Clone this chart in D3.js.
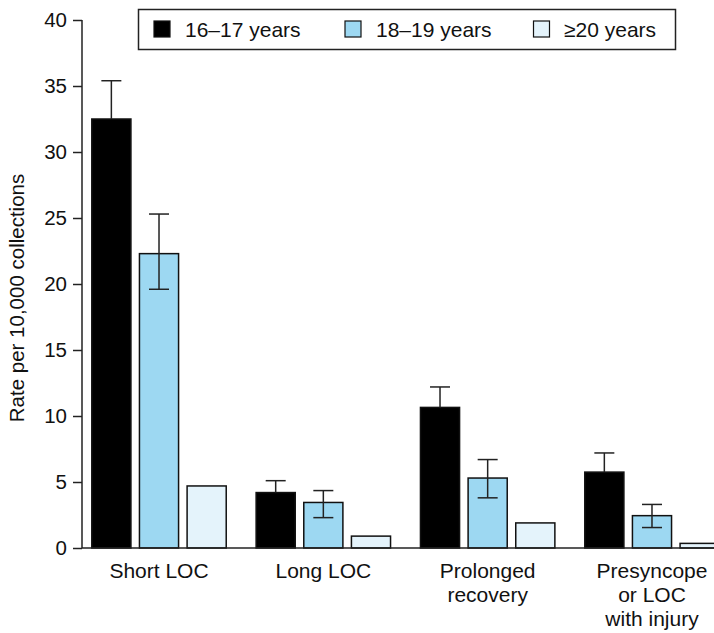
<!DOCTYPE html>
<html><head><meta charset="utf-8">
<script src="https://cdn.jsdelivr.net/npm/d3@7"></script>
<style>body{margin:0;background:#fff;} svg{display:block;font-family:"Liberation Sans",Arial,sans-serif;}</style>
</head><body>
<svg id="chart" width="714" height="633"></svg>
<script>
const categories = ["Short LOC", "Long LOC", "Prolonged recovery", "Presyncope or LOC with injury"];
const categoryLines = [["Short LOC"], ["Long LOC"], ["Prolonged", "recovery"], ["Presyncope", "or LOC", "with injury"]];
const series = ["16–17 years", "18–19 years", "≥20 years"];
const seriesColors = ["#000000", "#9dd8f2", "#e4f3fb"];
const values16 = [32.5, 4.2, 10.65, 5.75];
const values18 = [22.3, 3.45, 5.3, 2.45];
const values20 = [4.7, 0.9, 1.9, 0.35];
const upper16 = [35.4, 5.1, 12.2, 7.2];
const lower16 = [29.6, 3.3, 9.1, 4.3];
const upper18 = [25.3, 4.35, 6.7, 3.3];
const lower18 = [19.6, 2.3, 3.8, 1.55];
const yTicks = [0, 5, 10, 15, 20, 25, 30, 35, 40];

const svg = d3.select("#chart");
const y = d3.scaleLinear().domain([0, 40]).range([548, 20]);
const x0 = d3.scaleBand().domain(categories).range([91.8, 719.2]).paddingInner(0.182).paddingOuter(0);
const x1 = d3.scaleBand().domain(series).range([0, x0.bandwidth()]).paddingInner(0.179).paddingOuter(0);

const valuesBySeries = [values16, values18, values20];
const bars = [];
categories.forEach((c, i) => {
  series.forEach((s, j) => {
    bars.push({c, s, j, v: valuesBySeries[j][i]});
  });
});

// bars
svg.append("g").selectAll("rect").data(bars).join("rect")
  .attr("x", d => x0(d.c) + x1(d.s))
  .attr("y", d => y(d.v))
  .attr("width", x1.bandwidth())
  .attr("height", d => y(0) - y(d.v))
  .attr("fill", d => seriesColors[d.j])
  .attr("stroke", "#111")
  .attr("stroke-width", 1.5);

// error bars
const errs = [];
categories.forEach((c, i) => {
  errs.push({c, s: series[0], lo: lower16[i], hi: upper16[i], top: values16[i], black: true});
  errs.push({c, s: series[1], lo: lower18[i], hi: upper18[i], top: values18[i], black: false});
});
const eg = svg.append("g").attr("stroke", "#222").attr("stroke-width", 1.5);
errs.forEach(e => {
  const cx = x0(e.c) + x1(e.s) + x1.bandwidth() / 2;
  const lo = e.black ? e.top : e.lo;
  eg.append("line").attr("x1", cx).attr("x2", cx).attr("y1", y(e.hi)).attr("y2", y(lo));
  eg.append("line").attr("x1", cx - 10).attr("x2", cx + 10).attr("y1", y(e.hi)).attr("y2", y(e.hi));
  if (!e.black) eg.append("line").attr("x1", cx - 10).attr("x2", cx + 10).attr("y1", y(e.lo)).attr("y2", y(e.lo));
});

// y axis
const yAxis = d3.axisLeft(y).tickValues(yTicks).tickSize(9).tickPadding(6).tickFormat(d3.format("d"));
const ya = svg.append("g").attr("transform", "translate(82,0)").call(yAxis);
ya.select(".domain").attr("stroke", "#222").attr("stroke-width", 1.5).attr("d", "M0,20V548");
ya.selectAll(".tick line").attr("stroke", "#222").attr("stroke-width", 1.5);
ya.selectAll(".tick text").attr("font-size", 20.5).attr("fill", "#111").attr("font-family", "Liberation Sans, Arial, sans-serif");

// baseline
svg.append("line").attr("x1", 82).attr("x2", 714).attr("y1", y(0)).attr("y2", y(0))
  .attr("stroke", "#222").attr("stroke-width", 1.5);

// category labels
categories.forEach((c, i) => {
  const cx = x0(c) + x0.bandwidth() / 2;
  const t = svg.append("text").attr("text-anchor", "middle").attr("font-size", 21).attr("fill", "#111");
  categoryLines[i].forEach((ln, k) => {
    t.append("tspan").attr("x", cx).attr("y", 578 + k * 24).text(ln);
  });
});

// y title
svg.append("text").attr("transform", "translate(24,298) rotate(-90)").attr("text-anchor", "middle")
  .attr("font-size", 20.5).attr("fill", "#111").text("Rate per 10,000 collections");

// legend
const lg = svg.append("g");
lg.append("rect").attr("x", 138.5).attr("y", 9.5).attr("width", 537).attr("height", 40)
  .attr("fill", "#fff").attr("stroke", "#222").attr("stroke-width", 1.5);
const legX = [154, 345, 533.5];
series.forEach((s, j) => {
  lg.append("rect").attr("x", legX[j]).attr("y", 21).attr("width", 16).attr("height", 16)
    .attr("fill", seriesColors[j]).attr("stroke", "#111").attr("stroke-width", 1.2);
  lg.append("text").attr("x", legX[j] + (j === 2 ? 30.5 : 31)).attr("y", 37).attr("font-size", 21).attr("fill", "#111").text(s);
});
</script>
</body></html>
